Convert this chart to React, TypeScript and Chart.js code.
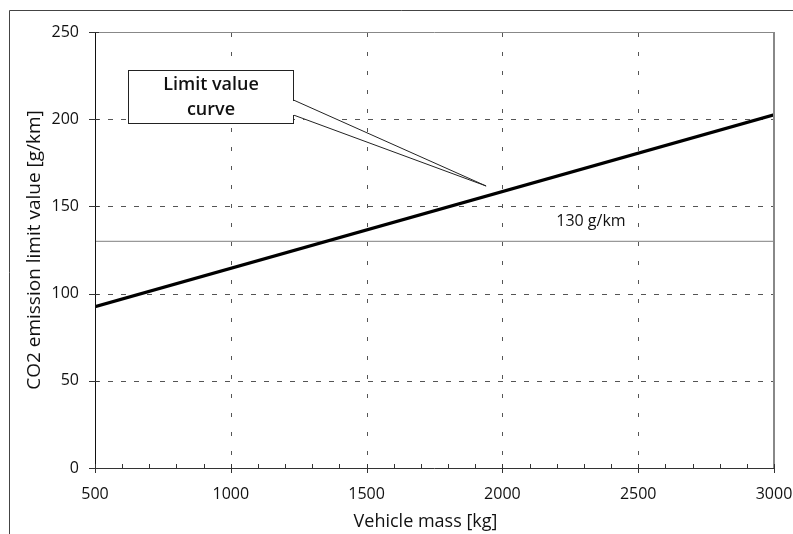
import React, { useEffect, useRef } from "react";
import { Chart, registerables } from "chart.js";

Chart.register(...registerables);

// ---- data ----
const massKg = [500, 3000];
const limitCurve = [92.5, 202.5];
const targetLevel = [130, 130];
const xTicks = [500, 1000, 1500, 2000, 2500, 3000];
const yTicks = [0, 50, 100, 150, 200, 250];
const xMinorStep = 100;
const xTitle = "Vehicle mass [kg]";
const yTitle = "CO2 emission limit value [g/km]";
const targetLabel = "130 g/km";
const targetLabelAt = [2326, 141.5];
const calloutLines = ["Limit value", "curve"];
const calloutBoxX = [620, 1228];
const calloutBoxY = [228.4, 197.8];
const calloutBaseY = [211, 202.4];
const calloutTip = [1940, 161.7];

const FONT = "'Open Sans', 'DejaVu Sans', sans-serif";
const TEXT = "#111";

const decor = {
  id: "decor",
  beforeDatasetsDraw(chart: any) {
    const { ctx, chartArea, scales } = chart;
    const { left, right, top, bottom } = chartArea;
    const x = scales.x;
    const y = scales.y;
    ctx.save();
    ctx.strokeStyle = "#555";
    ctx.lineWidth = 1;
    ctx.setLineDash([5, 8]);
    yTicks.forEach((v) => {
      if (v === yTicks[0] || v === yTicks[yTicks.length - 1]) return;
      const py = Math.round(y.getPixelForValue(v)) + 0.5;
      ctx.beginPath();
      ctx.moveTo(left, py);
      ctx.lineTo(right, py);
      ctx.stroke();
    });
    ctx.setLineDash([4, 15]);
    xTicks.forEach((v) => {
      if (v === xTicks[0] || v === xTicks[xTicks.length - 1]) return;
      const px = Math.round(x.getPixelForValue(v)) + 0.5;
      ctx.beginPath();
      ctx.moveTo(px, top + 1);
      ctx.lineTo(px, bottom);
      ctx.stroke();
    });
    ctx.setLineDash([]);
    ctx.restore();
  },
  afterDatasetsDraw(chart: any) {
    const { ctx, chartArea, scales } = chart;
    const { left, right, top, bottom } = chartArea;
    const x = scales.x;
    const y = scales.y;
    ctx.save();

    // outer figure frame
    ctx.strokeStyle = "#444";
    ctx.lineWidth = 1;
    ctx.beginPath();
    ctx.moveTo(9.5, chart.height);
    ctx.lineTo(9.5, 10.5);
    ctx.lineTo(chart.width, 10.5);
    ctx.stroke();

    // plot top/right borders
    ctx.strokeStyle = "#888";
    ctx.lineWidth = 1;
    ctx.beginPath();
    ctx.moveTo(left, top + 0.5);
    ctx.lineTo(right, top + 0.5);
    ctx.stroke();
    ctx.lineWidth = 2;
    ctx.beginPath();
    ctx.moveTo(right, top);
    ctx.lineTo(right, bottom);
    ctx.stroke();

    // axes
    ctx.strokeStyle = "#111";
    ctx.lineWidth = 1;
    ctx.beginPath();
    ctx.moveTo(Math.round(left) + 0.5, top);
    ctx.lineTo(Math.round(left) + 0.5, bottom + 1);
    ctx.stroke();
    ctx.strokeStyle = "#333";
    ctx.beginPath();
    ctx.moveTo(left, Math.round(bottom) + 0.5);
    ctx.lineTo(right, Math.round(bottom) + 0.5);
    ctx.stroke();

    // y ticks
    ctx.strokeStyle = "#333";
    yTicks.forEach((v) => {
      const py = Math.round(y.getPixelForValue(v)) + 0.5;
      ctx.beginPath();
      ctx.moveTo(left - 6, py);
      ctx.lineTo(left + 4, py);
      ctx.stroke();
    });
    // x ticks: minor inside, major crossing
    const xMin = xTicks[0];
    const xMax = xTicks[xTicks.length - 1];
    for (let v = xMin; v <= xMax; v += xMinorStep) {
      const px = Math.round(x.getPixelForValue(v)) + 0.5;
      const major = xTicks.includes(v);
      ctx.beginPath();
      ctx.moveTo(px, bottom - 4);
      ctx.lineTo(px, bottom + (major ? 5 : 0));
      ctx.stroke();
    }

    // 130 g/km label
    ctx.fillStyle = TEXT;
    ctx.font = `16px ${FONT}`;
    ctx.textAlign = "center";
    ctx.textBaseline = "middle";
    ctx.fillText(targetLabel, x.getPixelForValue(targetLabelAt[0]), y.getPixelForValue(targetLabelAt[1]));

    // callout
    const bx0 = Math.round(x.getPixelForValue(calloutBoxX[0])) + 0.5;
    const bx1 = Math.round(x.getPixelForValue(calloutBoxX[1])) + 0.5;
    const by0 = Math.round(y.getPixelForValue(calloutBoxY[0])) + 0.5;
    const by1 = Math.round(y.getPixelForValue(calloutBoxY[1])) + 0.5;
    const b1 = y.getPixelForValue(calloutBaseY[0]);
    const b2 = y.getPixelForValue(calloutBaseY[1]);
    const tx = x.getPixelForValue(calloutTip[0]);
    const ty = y.getPixelForValue(calloutTip[1]);
    ctx.fillStyle = "#fff";
    ctx.beginPath();
    ctx.moveTo(bx1 - 1, b1);
    ctx.lineTo(tx, ty);
    ctx.lineTo(bx1 - 1, b2);
    ctx.closePath();
    ctx.fill();
    ctx.fillRect(bx0, by0, bx1 - bx0, by1 - by0);
    ctx.strokeStyle = "#222";
    ctx.lineWidth = 1;
    ctx.strokeRect(bx0, by0, bx1 - bx0, by1 - by0);
    ctx.beginPath();
    ctx.moveTo(bx1, b1);
    ctx.lineTo(tx, ty);
    ctx.lineTo(bx1, b2);
    ctx.stroke();
    // open the box edge between the wedge base points
    ctx.fillStyle = "#fff";
    ctx.fillRect(bx1 - 1, b1 + 1, 2, b2 - b1 - 1);

    ctx.fillStyle = TEXT;
    ctx.font = `600 18px ${FONT}`;
    ctx.textAlign = "center";
    ctx.textBaseline = "middle";
    const cx = (bx0 + bx1) / 2;
    const cy = (by0 + by1) / 2;
    ctx.fillText(calloutLines[0], cx, cy - 12.5);
    ctx.fillText(calloutLines[1], cx, cy + 13);

    // x axis title
    ctx.font = `18px ${FONT}`;
    ctx.fillText(xTitle, (left + right) / 2 - 9, bottom + 54);

    ctx.restore();
  },
};

export default function App() {
  const ref = useRef<HTMLCanvasElement>(null);
  useEffect(() => {
    if (!ref.current) return;
    const chart = new Chart(ref.current, {
      type: "line",
      data: {
        datasets: [
          {
            data: massKg.map((m, i) => ({ x: m, y: limitCurve[i] })),
            borderColor: "#000",
            borderWidth: 3.2,
            pointRadius: 0,
            tension: 0,
            order: 0,
          },
          {
            data: massKg.map((m, i) => ({ x: m, y: targetLevel[i] })),
            borderColor: "#999",
            borderWidth: 1.3,
            pointRadius: 0,
            tension: 0,
            order: 1,
          },
        ],
      },
      options: {
        responsive: false,
        animation: false,
        devicePixelRatio: 1,
        layout: { padding: { left: 0, top: 32, right: 19, bottom: 0 } },
        plugins: { legend: { display: false }, tooltip: { enabled: false } },
        scales: {
          x: {
            type: "linear",
            min: xTicks[0],
            max: xTicks[xTicks.length - 1],
            afterBuildTicks: (s: any) => {
              s.ticks = xTicks.map((v) => ({ value: v }));
            },
            afterFit: (s: any) => {
              s.height = 66;
              s.paddingLeft = 0;
              s.paddingRight = 0;
            },
            ticks: {
              autoSkip: false,
              maxRotation: 0,
              padding: 17,
              color: TEXT,
              font: { family: FONT, size: 16 },
              callback: (v: any) => String(v),
            },
            grid: { display: false, drawTicks: false },
            border: { display: false },
          },
          y: {
            type: "linear",
            min: yTicks[0],
            max: yTicks[yTicks.length - 1],
            afterBuildTicks: (s: any) => {
              s.ticks = yTicks.map((v) => ({ value: v }));
            },
            afterFit: (s: any) => {
              s.width = 95;
              s.paddingTop = 0;
              s.paddingBottom = 0;
            },
            ticks: {
              padding: 16,
              color: TEXT,
              font: { family: FONT, size: 16 },
              callback: (v: any) => String(v),
            },
            grid: { display: false, drawTicks: false },
            border: { display: false },
            title: {
              display: true,
              text: yTitle,
              color: TEXT,
              font: { family: FONT, size: 19 },
              padding: { top: 23.5, bottom: 0 },
            },
          },
        },
      },
      plugins: [decor],
    });
    return () => chart.destroy();
  }, []);
  return (
    <div style={{ position: "absolute", left: 0, top: 0, width: 793, height: 534, background: "#fff" }}>
      <canvas ref={ref} width={793} height={534} />
    </div>
  );
}
